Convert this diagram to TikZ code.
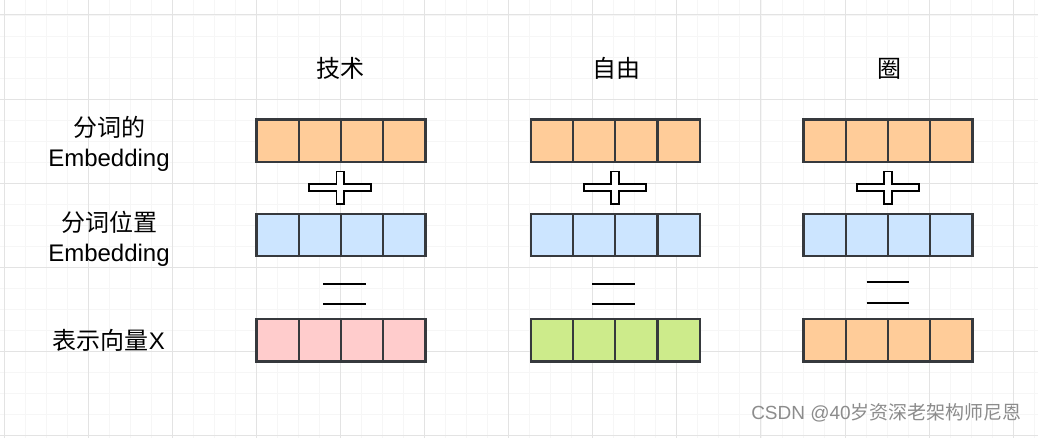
\documentclass[tikz,border=0pt]{standalone}
\usepackage{fontspec}
\setmainfont{Liberation Sans}
\newfontfamily\cjk{Noto Sans CJK SC}
\definecolor{orangeF}{HTML}{FFCC99}
\definecolor{blueF}{HTML}{CCE5FF}
\definecolor{pinkF}{HTML}{FFCCCC}
\definecolor{greenF}{HTML}{CDEB8B}
\definecolor{strokeC}{HTML}{36393D}
\definecolor{majorG}{HTML}{E3E3E3}
\definecolor{minorG}{HTML}{F6F6F6}
\definecolor{wmark}{HTML}{8C8C8C}
\begin{document}
\begin{tikzpicture}[x=1pt,y=-1pt,
  cell/.style={draw=strokeC, line width=2.2pt, minimum width=42.25pt, minimum height=42.5pt, inner sep=0pt, outer sep=0pt},
  lbl/.style={font=\fontsize{24}{30}\selectfont, inner sep=0pt, align=center},
  wm/.style={font=\fontsize{19}{22}\selectfont, text=wmark, inner sep=0pt},
  plussign/.pic={
    \draw[black, line width=1.7pt, fill=white]
      (-31,-3.5) -- (-3.7,-3.5) -- (-3.7,-16.2) -- (3.7,-16.2) -- (3.7,-3.5) -- (31,-3.5)
      -- (31,3.5) -- (3.7,3.5) -- (3.7,16.2) -- (-3.7,16.2) -- (-3.7,3.5) -- (-31,3.5) -- cycle;
  },
  equalsign/.pic={
    \draw[black, line width=2pt] (-21.3,-10.2) -- (21.3,-10.2);
    \draw[black, line width=2pt] (-21.3,10.2) -- (21.3,10.2);
  }]
\useasboundingbox (0,0) rectangle (1038,438);
\fill[white] (0,0) rectangle (1038,438);
% minor grid
\foreach \i in {0,...,49} {
  \draw[minorG, line width=0.8pt] ({4+21.025*\i},0) -- ++(0,438);
}
\foreach \i in {0,...,20} {
  \draw[minorG, line width=0.8pt] (0,{15+21.0125*\i}) -- ++(1038,0);
}
% major grid
\foreach \i in {0,...,12} {
  \draw[majorG, line width=1pt] ({4+84.1*\i},0) -- ++(0,438);
}
\foreach \i in {0,...,5} {
  \draw[majorG, line width=1pt] (0,{15+84.05*\i}) -- ++(1038,0);
}
% headers
\node[lbl] (h1) at (340,68.5) {\cjk 技术};
\node[lbl] (h2) at (616,68.5) {\cjk 自由};
\node[lbl] (h3) at (889,68.5) {\cjk 圈};
% left labels
\node[lbl] (l1) at (109,143.5) {{\cjk 分词的}\\Embedding};
\node[lbl] (l2) at (109,238.5) {{\cjk 分词位置}\\Embedding};
\node[lbl] (l3) at (109,340.5) {{\cjk 表示向量}X};
% cells
\foreach \k in {0,1,2,3} {
  \node[cell, fill=orangeF] (a1-\k) at ({256.5+21.125+42.25*\k},140.8) {};
  \node[cell, fill=blueF]   (b1-\k) at ({256.5+21.125+42.25*\k},235) {};
  \node[cell, fill=pinkF]   (c1-\k) at ({256.5+21.125+42.25*\k},340.3) {};
  \node[cell, fill=orangeF] (a2-\k) at ({530.8+21.125+42.25*\k},140.8) {};
  \node[cell, fill=blueF]   (b2-\k) at ({530.8+21.125+42.25*\k},235) {};
  \node[cell, fill=greenF]  (c2-\k) at ({530.8+21.125+42.25*\k},340.3) {};
  \node[cell, fill=orangeF] (a3-\k) at ({803.5+21.125+42.25*\k},140.8) {};
  \node[cell, fill=blueF]   (b3-\k) at ({803.5+21.125+42.25*\k},235) {};
  \node[cell, fill=orangeF] (c3-\k) at ({803.5+21.125+42.25*\k},340.3) {};
}
% operators
\pic at (340.3,187.8) {plussign};
\pic at (615,187.8) {plussign};
\pic at (888,187.8) {plussign};
\pic at (344.5,293.8) {equalsign};
\pic at (613.5,293.8) {equalsign};
\pic at (888,292.3) {equalsign};
% watermark
\node[wm, anchor=east] (wmk) at (1022,413) {CSDN @40{\cjk 岁资深老架构师尼恩}};
\end{tikzpicture}
\end{document}
